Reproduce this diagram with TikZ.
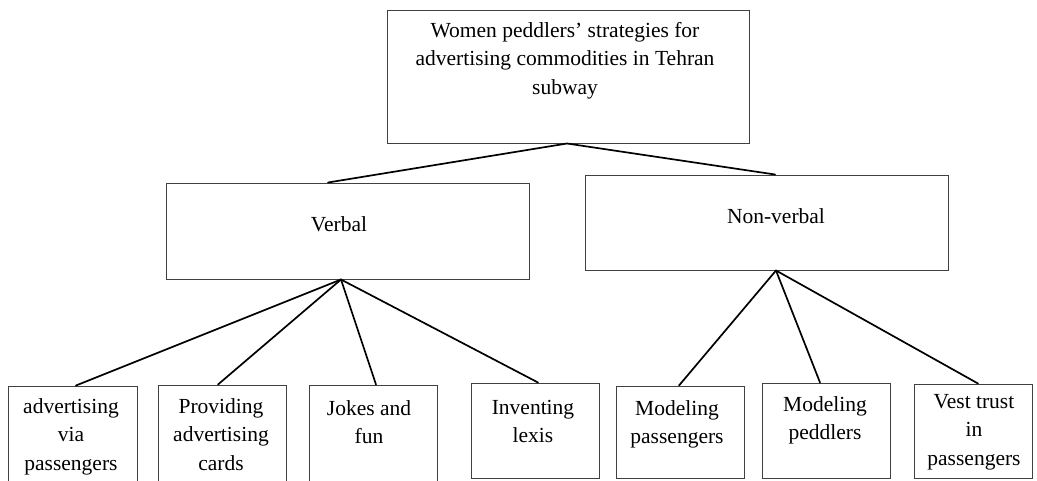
\documentclass[tikz,border=0pt]{standalone}
\usepackage{fontspec}
\setmainfont{Liberation Serif}
\usepackage{tikz}

\begin{document}
\begin{tikzpicture}[x=1pt,y=-1pt,
  box/.style={rectangle,draw=black!75,line width=1pt,inner sep=0pt},
  txt/.style={anchor=north,align=center,inner sep=0pt,font=\fontsize{21.5}{28.5}\selectfont},
  link/.style={line width=1.7pt,line cap=round}]
\clip (0,0) rectangle (1037,480);
\node (1) at (568,76.5) [box,minimum width=362pt,minimum height=133pt] {};
\node (2) at (347.5,231) [box,minimum width=363pt,minimum height=96pt] {};
\node (3) at (766.5,222.5) [box,minimum width=363pt,minimum height=95pt] {};
\node (4) at (72.5,435.5) [box,minimum width=129pt,minimum height=99pt] {};
\node (5) at (222,435) [box,minimum width=128pt,minimum height=100pt] {};
\node (6) at (373,435) [box,minimum width=128pt,minimum height=100pt] {};
\node (7) at (535,430.5) [box,minimum width=128pt,minimum height=95pt] {};
\node (8) at (680,432) [box,minimum width=128pt,minimum height=92pt] {};
\node (9) at (826,430.5) [box,minimum width=128pt,minimum height=95pt] {};
\node (10) at (973,431) [box,minimum width=118pt,minimum height=94pt] {};
\node (t1) at (565,17) [txt] {\strut Women peddlers’ strategies for\\advertising commodities in Tehran\\subway};
\node (t2) at (339,211) [txt] {\strut Verbal};
\node (t3) at (776,203) [txt] {\strut Non-verbal};
\node (t4) at (71,393) [txt] {\strut advertising\\via\\passengers};
\node (t5) at (221,393) [txt] {\strut Providing\\advertising\\cards};
\node (t6) at (369,395) [txt] {\strut Jokes and\\fun};
\node (t7) at (533,394) [txt] {\strut Inventing\\lexis};
\node (t8) at (677,395) [txt] {\strut Modeling\\passengers};
\node (t9) at (825,391) [txt] {\strut Modeling\\peddlers};
\node (t10) at (974,388) [txt] {\strut Vest trust\\in\\passengers};
\draw [link] ([xshift=-1pt]1.south) -- ([xshift=-19.5pt]2.north);
\draw [link] ([xshift=-1pt]1.south) -- ([xshift=8.5pt]3.north);
\draw [link] ([xshift=-6.5pt]2.south) -- ([xshift=3.5pt]4.north);
\draw [link] ([xshift=-6.5pt]2.south) -- ([xshift=-4pt]5.north);
\draw [link] ([xshift=-6.5pt]2.south) -- ([xshift=3pt]6.north);
\draw [link] ([xshift=-6.5pt]2.south) -- ([xshift=3pt]7.north);
\draw [link] ([xshift=9.5pt]3.south) -- ([xshift=-1pt]8.north);
\draw [link] ([xshift=9.5pt]3.south) -- ([xshift=-6pt]9.north);
\draw [link] ([xshift=9.5pt]3.south) -- ([xshift=5pt]10.north);
\end{tikzpicture}
\end{document}
